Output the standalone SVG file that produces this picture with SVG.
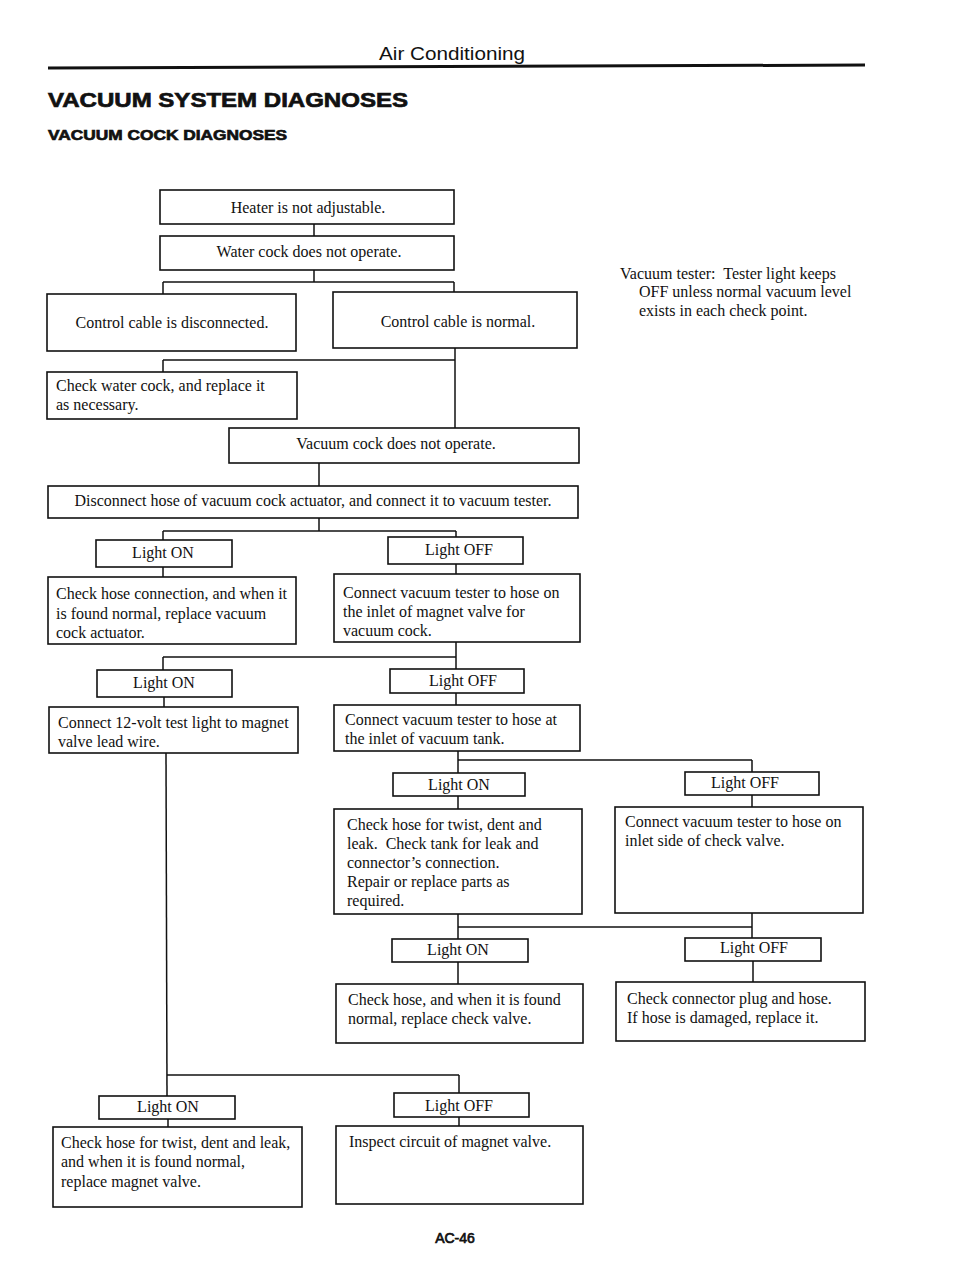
<svg xmlns="http://www.w3.org/2000/svg" width="960" height="1270" viewBox="0 0 960 1270">
<style>
.bx{fill:#fff;stroke:#111;stroke-width:1.6}
.t{font-family:"Liberation Serif","Times New Roman",serif;font-size:16px;fill:#111}
.c{text-anchor:middle}
.cn line{stroke:#111;stroke-width:1.5}
.h{font-family:"Liberation Sans",Arial,sans-serif;fill:#111}
.hb{stroke:#111;stroke-width:0.7}
</style>
<rect width="960" height="1270" fill="#fff"/>
<g id="header">
<text class="h" x="452" y="60" font-size="18" text-anchor="middle" textLength="146" lengthAdjust="spacingAndGlyphs">Air Conditioning</text>
<line x1="48" y1="68" x2="865" y2="65" stroke="#111" stroke-width="3"/>
<text class="h hb" x="48" y="107" font-size="21" font-weight="bold" textLength="360" lengthAdjust="spacingAndGlyphs">VACUUM SYSTEM DIAGNOSES</text>
<text class="h hb" x="48" y="140" font-size="15" font-weight="bold" textLength="239" lengthAdjust="spacingAndGlyphs">VACUUM COCK DIAGNOSES</text>
</g>
<g id="connectors" class="cn">
<line x1="314" y1="224" x2="314" y2="236"/>
<line x1="314" y1="270" x2="314" y2="282"/>
<line x1="163" y1="282" x2="454" y2="282"/>
<line x1="163" y1="282" x2="163" y2="294"/>
<line x1="454" y1="282" x2="454" y2="292"/>
<line x1="455" y1="348" x2="455" y2="428"/>
<line x1="163" y1="360" x2="455" y2="360"/>
<line x1="163" y1="360" x2="163" y2="372"/>
<line x1="319" y1="463" x2="319" y2="486"/>
<line x1="319" y1="518" x2="319" y2="531"/>
<line x1="163" y1="531" x2="456" y2="531"/>
<line x1="163" y1="531" x2="163" y2="540"/>
<line x1="456" y1="531" x2="456" y2="537"/>
<line x1="163" y1="567" x2="163" y2="577"/>
<line x1="456" y1="564" x2="456" y2="574"/>
<line x1="456" y1="642" x2="456" y2="669"/>
<line x1="163" y1="657" x2="456" y2="657"/>
<line x1="163" y1="657" x2="163" y2="670"/>
<line x1="164" y1="697" x2="164" y2="707"/>
<line x1="456" y1="693" x2="456" y2="705"/>
<line x1="458" y1="751" x2="458" y2="773"/>
<line x1="458" y1="760" x2="752" y2="760"/>
<line x1="752" y1="760" x2="752" y2="772"/>
<line x1="458" y1="796" x2="458" y2="809"/>
<line x1="752" y1="795" x2="752" y2="807"/>
<line x1="458" y1="914" x2="458" y2="939"/>
<line x1="458" y1="927" x2="752" y2="927"/>
<line x1="752" y1="913" x2="752" y2="938"/>
<line x1="458" y1="962" x2="458" y2="984"/>
<line x1="753" y1="961" x2="753" y2="982"/>
<line x1="166" y1="753" x2="167" y2="1096"/>
<line x1="167" y1="1075" x2="459" y2="1075"/>
<line x1="459" y1="1075" x2="459" y2="1093"/>
<line x1="168" y1="1119" x2="168" y2="1127"/>
<line x1="459" y1="1117" x2="459" y2="1126"/>
</g>
<g id="n_heater"><rect class="bx" x="160" y="190" width="294" height="34"/><text class="t c" x="308" y="213">Heater is not adjustable.</text></g>
<g id="n_water"><rect class="bx" x="160" y="236" width="294" height="34"/><text class="t c" x="309" y="257">Water cock does not operate.</text></g>
<g id="n_ctrl_disc"><rect class="bx" x="47" y="294" width="249" height="57"/><text class="t c" x="172" y="328">Control cable is disconnected.</text></g>
<g id="n_ctrl_norm"><rect class="bx" x="333" y="292" width="244" height="56"/><text class="t c" x="458" y="327">Control cable is normal.</text></g>
<g id="n_check_water"><rect class="bx" x="47" y="372" width="250" height="47"/><text class="t" x="56" y="391">Check water cock, and replace it</text><text class="t" x="56" y="410">as necessary.</text></g>
<g id="n_vac_cock"><rect class="bx" x="229" y="428" width="350" height="35"/><text class="t c" x="396" y="449">Vacuum cock does not operate.</text></g>
<g id="n_disconnect"><rect class="bx" x="48" y="486" width="530" height="32"/><text class="t c" x="313" y="506">Disconnect hose of vacuum cock actuator, and connect it to vacuum tester.</text></g>
<g id="n_on1"><rect class="bx" x="96" y="540" width="136" height="27"/><text class="t c" x="163" y="558">Light ON</text></g>
<g id="n_off1"><rect class="bx" x="388" y="537" width="135" height="27"/><text class="t c" x="459" y="555">Light OFF</text></g>
<g id="n_check_hose_conn"><rect class="bx" x="48" y="577" width="248" height="67"/><text class="t" x="56" y="599">Check hose connection, and when it</text><text class="t" x="56" y="619">is found normal, replace vacuum</text><text class="t" x="56" y="638">cock actuator.</text></g>
<g id="n_conn_magnet"><rect class="bx" x="334" y="574" width="246" height="68"/><text class="t" x="343" y="598">Connect vacuum tester to hose on</text><text class="t" x="343" y="617">the inlet of magnet valve for</text><text class="t" x="343" y="636">vacuum cock.</text></g>
<g id="n_on2"><rect class="bx" x="97" y="670" width="135" height="27"/><text class="t c" x="164" y="688">Light ON</text></g>
<g id="n_off2"><rect class="bx" x="390" y="669" width="134" height="24"/><text class="t c" x="463" y="686">Light OFF</text></g>
<g id="n_12volt"><rect class="bx" x="49" y="707" width="249" height="46"/><text class="t" x="58" y="728">Connect 12-volt test light to magnet</text><text class="t" x="58" y="747">valve lead wire.</text></g>
<g id="n_tank"><rect class="bx" x="334" y="705" width="246" height="46"/><text class="t" x="345" y="725">Connect vacuum tester to hose at</text><text class="t" x="345" y="744">the inlet of vacuum tank.</text></g>
<g id="n_on3"><rect class="bx" x="393" y="773" width="132" height="23"/><text class="t c" x="459" y="790">Light ON</text></g>
<g id="n_off3"><rect class="bx" x="685" y="772" width="134" height="23"/><text class="t c" x="745" y="788">Light OFF</text></g>
<g id="n_twist"><rect class="bx" x="334" y="809" width="248" height="105"/><text class="t" x="347" y="830">Check hose for twist, dent and</text><text class="t" x="347" y="849" xml:space="preserve">leak.  Check tank for leak and</text><text class="t" x="347" y="868">connector’s connection.</text><text class="t" x="347" y="887">Repair or replace parts as</text><text class="t" x="347" y="906">required.</text></g>
<g id="n_inlet"><rect class="bx" x="615" y="807" width="248" height="106"/><text class="t" x="625" y="827">Connect vacuum tester to hose on</text><text class="t" x="625" y="846">inlet side of check valve.</text></g>
<g id="n_on4"><rect class="bx" x="392" y="939" width="136" height="23"/><text class="t c" x="458" y="955">Light ON</text></g>
<g id="n_off4"><rect class="bx" x="685" y="938" width="136" height="23"/><text class="t c" x="754" y="953">Light OFF</text></g>
<g id="n_check_valve"><rect class="bx" x="336" y="984" width="247" height="59"/><text class="t" x="348" y="1005">Check hose, and when it is found</text><text class="t" x="348" y="1024">normal, replace check valve.</text></g>
<g id="n_plug"><rect class="bx" x="616" y="982" width="249" height="59"/><text class="t" x="627" y="1004">Check connector plug and hose.</text><text class="t" x="627" y="1023">If hose is damaged, replace it.</text></g>
<g id="n_on5"><rect class="bx" x="99" y="1096" width="136" height="23"/><text class="t c" x="168" y="1112">Light ON</text></g>
<g id="n_off5"><rect class="bx" x="394" y="1093" width="135" height="24"/><text class="t c" x="459" y="1111">Light OFF</text></g>
<g id="n_magnet_leak"><rect class="bx" x="53" y="1127" width="249" height="80"/><text class="t" x="61" y="1148">Check hose for twist, dent and leak,</text><text class="t" x="61" y="1167">and when it is found normal,</text><text class="t" x="61" y="1187">replace magnet valve.</text></g>
<g id="n_inspect"><rect class="bx" x="336" y="1126" width="247" height="78"/><text class="t" x="349" y="1147">Inspect circuit of magnet valve.</text></g>
<g id="note"><text class="t" x="620" y="279" xml:space="preserve">Vacuum tester:  Tester light keeps</text><text class="t" x="639" y="297">OFF unless normal vacuum level</text><text class="t" x="639" y="316">exists in each check point.</text></g>
<g id="footer"><text class="h hb" x="455" y="1243" font-size="14" stroke-width="0.3" text-anchor="middle">AC-46</text></g>
</svg>
